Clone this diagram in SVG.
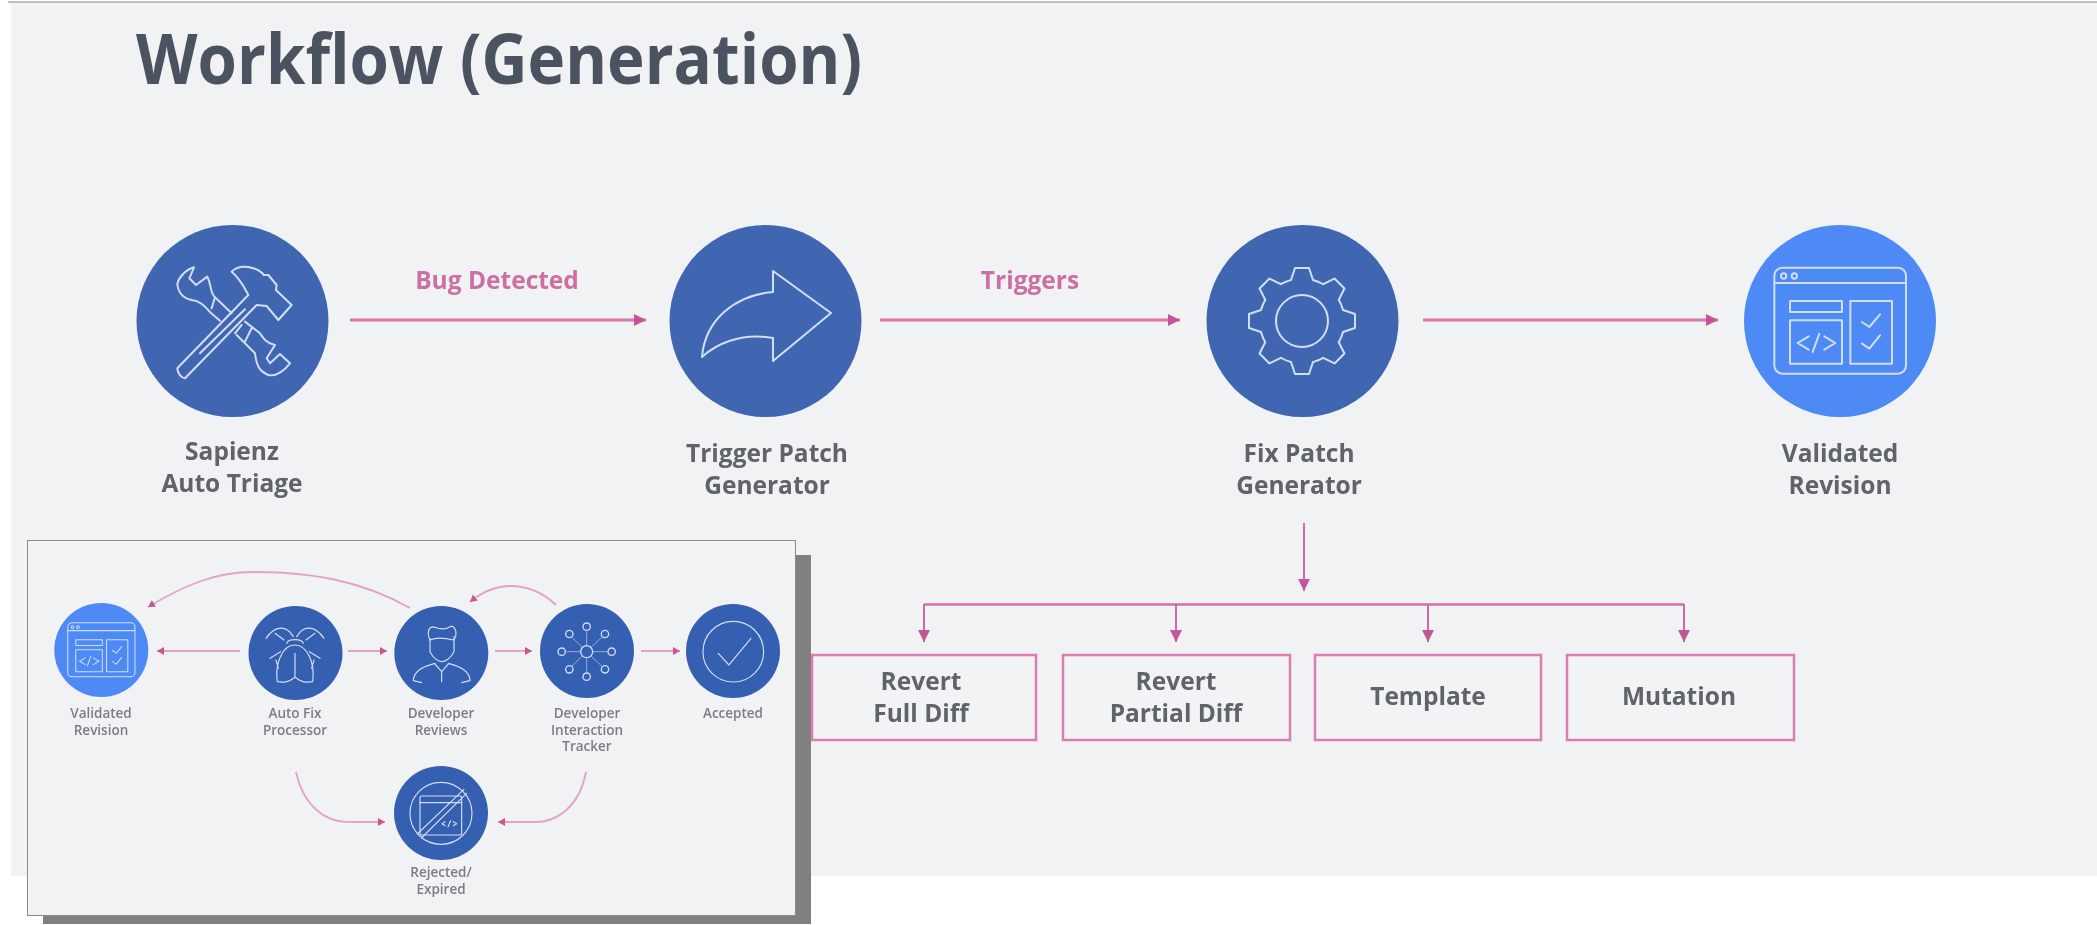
<svg xmlns="http://www.w3.org/2000/svg" xmlns:xlink="http://www.w3.org/1999/xlink" width="2097" height="925" viewBox="0 0 2097 925">
<style>
text{font-family:"Open Sans","Noto Sans","Liberation Sans",sans-serif;font-weight:700;text-anchor:middle}
.title{font-size:70px;font-weight:700;fill:#4b5361;text-anchor:start}
.lab{font-size:24.500px;fill:#5f636b}
.edge{font-size:24.500px;fill:#cc70a4}
.small{font-size:13.500px;font-weight:600;fill:#7a7e84}
.ic{fill:none;stroke:#d3def4;stroke-linecap:round;stroke-linejoin:round}
.c1{fill:#3f66b2}
.c2{fill:#4e8af5}
.cd{fill:#345eb0}
.ln{fill:none;stroke:#d577ac;stroke-width:3}
.bus{fill:none;stroke:#d46fa9;stroke-width:2.500}
.thin{fill:none;stroke:#cf6aa5;stroke-width:2}
.lnsm{fill:none;stroke:#e3a3c3;stroke-width:1.800}
.box{fill:#f2f3f5;stroke:#dc7db2;stroke-width:2.500}
</style>
<defs>
<filter id="b1" x="-5%" y="-5%" width="110%" height="110%"><feGaussianBlur stdDeviation="0.7"/></filter>
<filter id="b2" x="-5%" y="-5%" width="110%" height="110%"><feGaussianBlur stdDeviation="0.7"/></filter>
<marker id="ah" markerUnits="userSpaceOnUse" markerWidth="14" markerHeight="14" refX="12" refY="6" orient="auto"><path d="M0,0 L12,6 L0,12 Z" fill="#c5559a"/></marker>
<marker id="as" markerUnits="userSpaceOnUse" markerWidth="9" markerHeight="9" refX="7" refY="4" orient="auto"><path d="M0,0 L7,4 L0,8 Z" fill="#c9568e"/></marker>
<g id="win" transform="scale(.3333) translate(-332,-332)">
<rect x="135" y="172" width="395" height="318" rx="24"/>
<path d="M135,218 H530"/>
<circle cx="163" cy="197" r="8"/><circle cx="195" cy="197" r="8"/>
<rect x="182" y="272" width="156" height="33"/>
<rect x="182" y="330" width="156" height="130"/>
<rect x="363" y="272" width="125" height="188"/>
<path d="M238,378 L205,398 L238,418 M270,370 L250,425 M285,378 L318,398 L285,418"/>
<path d="M398,335 L420,350 L452,312 M398,400 L420,415 L452,375"/>
</g>
<path id="tooth" d="M-11,-41 L-7,-53 L7,-53 L11,-41 A42.500,42.500 0 0 1 20.800,-37"/>
</defs>

<rect width="2097" height="925" fill="#ffffff"/>
<rect x="11" y="3" width="2086" height="873" fill="#f1f2f4"/>
<path d="M8,2 H2097" stroke="#a9abad" stroke-width="1.500"/>

<g filter="url(#b1)">
<g id="title"><text class="title" x="136" y="84" textLength="726" lengthAdjust="spacingAndGlyphs">Workflow (Generation)</text></g>

<g id="connectors">
<path class="ln" d="M350,320 H646" marker-end="url(#ah)"/>
<path class="ln" d="M880,320 H1180" marker-end="url(#ah)"/>
<path class="ln" d="M1423,320 H1718" marker-end="url(#ah)"/>
<path class="thin" d="M1304,523 V591" marker-end="url(#ah)"/>
<path class="bus" d="M924,604.500 H1684"/>
<path class="thin" d="M924,604 V642" marker-end="url(#ah)"/>
<path class="thin" d="M1176,604 V642" marker-end="url(#ah)"/>
<path class="thin" d="M1428,604 V642" marker-end="url(#ah)"/>
<path class="thin" d="M1684,604 V642" marker-end="url(#ah)"/>
</g>
<g id="edge-labels">
<text class="edge" x="497" y="289">Bug Detected</text>
<text class="edge" x="1030" y="289">Triggers</text>
</g>

<g id="n-sapienz">
<circle class="c1" cx="232.500" cy="321" r="96"/>
<g class="ic" stroke-width="6" transform="translate(120,210) scale(.3333)">
<path d="M172,475 L385,255 C372,230 360,205 335,185 C360,160 410,170 432,195 L445,195 L470,225 L468,240 L515,285 L475,330 L440,288 L410,285 L195,505 C185,505 172,490 172,475 Z"/>
<path d="M240,430 L375,298"/>
<path d="M222,172 C195,180 175,205 172,222 C175,250 190,265 215,270 C240,272 255,290 272,308 L300,332 M222,172 L208,205 L228,225 L262,200 C275,225 270,250 285,262 L335,310 M285,262 L275,295 M350,375 L405,430 C410,470 420,485 445,495 C470,500 490,485 510,460 L480,432 L450,460 L440,445 L465,405 C440,400 430,385 420,370 L375,335 M365,345 L345,370 M395,355 L375,395"/>
</g>
<text class="lab"><tspan x="232" y="460">Sapienz</tspan><tspan x="232" y="492">Auto Triage</tspan></text>
</g>

<g id="n-trigger">
<circle class="c1" cx="765.500" cy="321" r="96"/>
<path class="ic" stroke-width="2" d="M831,313 L773,271 L773,292 C735,295 705,320 702,357 C715,345 740,332 773,338 L773,361 Z"/>
<text class="lab"><tspan x="767" y="462">Trigger Patch</tspan><tspan x="767" y="494">Generator</tspan></text>
</g>

<g id="n-fix">
<circle class="c1" cx="1302.500" cy="321" r="96"/>
<g class="ic" stroke-width="2" transform="translate(1302,321)">
<circle r="26"/>
<use xlink:href="#tooth" href="#tooth"/>
<use xlink:href="#tooth" href="#tooth" transform="rotate(45)"/>
<use xlink:href="#tooth" href="#tooth" transform="rotate(90)"/>
<use xlink:href="#tooth" href="#tooth" transform="rotate(135)"/>
<use xlink:href="#tooth" href="#tooth" transform="rotate(180)"/>
<use xlink:href="#tooth" href="#tooth" transform="rotate(225)"/>
<use xlink:href="#tooth" href="#tooth" transform="rotate(270)"/>
<use xlink:href="#tooth" href="#tooth" transform="rotate(315)"/>
</g>
<text class="lab"><tspan x="1299" y="462">Fix Patch</tspan><tspan x="1299" y="494">Generator</tspan></text>
</g>

<g id="n-validated">
<circle class="c2" cx="1840" cy="321" r="96"/>
<use class="ic" stroke-width="6" xlink:href="#win" href="#win" transform="translate(1840,321)"/>
<text class="lab"><tspan x="1840" y="462">Validated</tspan><tspan x="1840" y="494">Revision</tspan></text>
</g>

<g id="n-revert-full"><rect class="box" x="812" y="655" width="224" height="85"/><text class="lab"><tspan x="921" y="690">Revert</tspan><tspan x="921" y="722">Full Diff</tspan></text></g>
<g id="n-revert-partial"><rect class="box" x="1063" y="655" width="227" height="85"/><text class="lab"><tspan x="1176" y="690">Revert</tspan><tspan x="1176" y="722">Partial Diff</tspan></text></g>
<g id="n-template"><rect class="box" x="1315" y="655" width="226" height="85"/><text class="lab" x="1428" y="705">Template</text></g>
<g id="n-mutation"><rect class="box" x="1567" y="655" width="227" height="85"/><text class="lab" x="1679" y="705">Mutation</text></g>
</g>

<g id="inset">
<rect x="43" y="555" width="768" height="369" fill="#808080"/>
<rect x="27.500" y="540.500" width="768" height="375" fill="#f1f2f4" stroke="#8a8a8a" stroke-width="1"/>
<g filter="url(#b2)">
<g id="inset-connectors">
<path class="lnsm" d="M240,651 H157" marker-end="url(#as)"/>
<path class="lnsm" d="M348,651 H387" marker-end="url(#as)"/>
<path class="lnsm" d="M495,651 H532" marker-end="url(#as)"/>
<path class="lnsm" d="M641,651 H680" marker-end="url(#as)"/>
<path class="lnsm" d="M410,608 C360,580 310,572 254,572 C215,572 185,585 148,607" marker-end="url(#as)"/>
<path class="lnsm" d="M556,605 C540,590 525,586 511,586 C495,586 482,592 470,602" marker-end="url(#as)"/>
<path class="lnsm" d="M296,772 C303,805 325,823 350,822 H385" marker-end="url(#as)"/>
<path class="lnsm" d="M586,772 C580,805 558,823 533,822 H498" marker-end="url(#as)"/>
</g>
<g id="i-validated">
<circle class="c2" cx="101.300" cy="650" r="47"/>
<use class="ic" stroke-width="6" xlink:href="#win" href="#win" transform="translate(101.300,650) scale(.51)"/>
<text class="small"><tspan x="101" y="718">Validated</tspan><tspan x="101" y="734.500">Revision</tspan></text>
</g>
<g id="i-autofix">
<circle class="cd" cx="295.500" cy="653" r="47"/>
<g class="ic" stroke-width="3.500" transform="translate(30,590) scale(.3333)">
<path d="M742,275 C735,225 755,165 795,165 C835,165 855,225 848,275 C830,278 815,278 795,262 C775,278 760,278 742,275 Z M795,190 V262"/>
<path d="M770,160 C775,145 815,145 820,160"/>
<path d="M790,140 C770,105 735,105 708,145 M800,140 C820,105 855,105 882,145"/>
<path d="M752,185 L720,205 M745,235 L738,210 M838,185 L870,205 M845,235 L852,210 M762,150 L735,130 M828,150 L855,130"/>
</g>
<text class="small"><tspan x="295" y="718">Auto Fix</tspan><tspan x="295" y="734.500">Processor</tspan></text>
</g>
<g id="i-reviews">
<circle class="cd" cx="441.300" cy="653" r="47"/>
<g class="ic" stroke-width="3.500" transform="translate(380,590) scale(.3333)">
<path d="M150,145 V185 C160,205 175,215 185,215 C195,215 212,205 222,185 V140"/>
<path d="M150,150 C140,130 145,105 165,112 C180,118 200,118 215,108 C230,115 232,135 222,150 C200,145 170,140 150,150 Z"/>
<path d="M100,272 C100,245 125,230 165,220 M270,272 C270,245 245,230 205,220 M100,272 L125,278 M270,272 L245,278"/>
<path d="M165,222 L185,245 L205,222 M185,245 V275"/>
</g>
<text class="small"><tspan x="441" y="718">Developer</tspan><tspan x="441" y="734.500">Reviews</tspan></text>
</g>
<g id="i-tracker">
<circle class="cd" cx="587" cy="651" r="47"/>
<g class="ic" stroke-width="4" transform="translate(380,590) scale(.3333)">
<circle cx="620" cy="185" r="18"/>
<circle cx="620" cy="110" r="11"/><circle cx="675" cy="132" r="11"/><circle cx="695" cy="185" r="11"/><circle cx="675" cy="238" r="11"/><circle cx="620" cy="260" r="11"/><circle cx="568" cy="238" r="11"/><circle cx="545" cy="185" r="11"/><circle cx="568" cy="132" r="11"/>
<path stroke-width="1.800" d="M620,165 V125 M634,171 L665,142 M640,185 H680 M634,199 L665,228 M620,205 V245 M606,199 L576,228 M600,185 H560 M606,171 L576,142"/>
</g>
<text class="small"><tspan x="587" y="718">Developer</tspan><tspan x="587" y="734.500">Interaction</tspan><tspan x="587" y="750.500">Tracker</tspan></text>
</g>
<g id="i-accepted">
<circle class="cd" cx="733" cy="651" r="47"/>
<g class="ic" stroke-width="3.500" transform="translate(380,590) scale(.3333)">
<circle cx="1060" cy="185" r="91"/>
<path d="M1015,190 L1047,225 L1113,145"/>
</g>
<text class="small" x="733" y="718">Accepted</text>
</g>
<g id="i-rejected">
<circle class="cd" cx="441" cy="813" r="47"/>
<g class="ic" stroke-width="3.500" transform="translate(280,760) scale(.3333)">
<circle cx="483" cy="160" r="93"/>
<rect x="420" y="108" width="125" height="117" rx="5"/>
<path d="M420,128 H545 M412,222 L552,88 M424,234 L560,100"/>
<path d="M495,185 L486,191 L495,197 M512,182 L504,200 M520,185 L530,191 L520,197"/>
</g>
<text class="small"><tspan x="441" y="877">Rejected/</tspan><tspan x="441" y="894">Expired</tspan></text>
</g>
</g>
</g>
</svg>
